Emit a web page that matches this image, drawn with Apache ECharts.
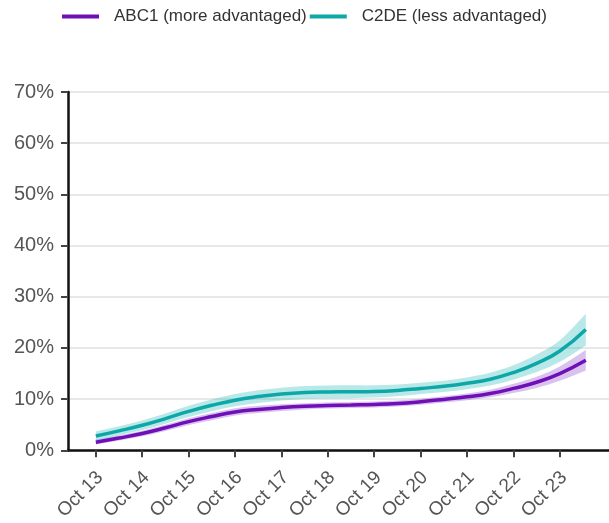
<!DOCTYPE html>
<html>
<head>
<meta charset="utf-8">
<script src="https://cdn.jsdelivr.net/npm/echarts@6/dist/echarts.min.js"></script>
<style>
html,body{margin:0;padding:0;background:#fff;}
#chart{width:609px;height:523px;}
</style>
</head>
<body>
<div id="chart"></div>
<script>
// x positions in years since Oct 2013
const years = [0,0.5,1,1.5,2,2.5,3,3.5,4,4.5,5,5.5,6,6.5,7,7.5,8,8.5,9,9.5,10,10.56];
const tickPositions = [0,1,2,3,4,5,6,7,8,9,10];
const tickLabels = ['Oct 13','Oct 14','Oct 15','Oct 16','Oct 17','Oct 18','Oct 19','Oct 20','Oct 21','Oct 22','Oct 23'];
const yTicks = [0,10,20,30,40,50,60,70];

const abc1Name = 'ABC1 (more advantaged)';
const c2deName = 'C2DE (less advantaged)';

const abc1 = [1.6,2.4,3.3,4.4,5.6,6.6,7.5,8.0,8.35,8.6,8.75,8.85,8.95,9.15,9.5,9.95,10.45,11.1,12.1,13.3,15.0,17.6];
const abc1Lower = [1.1,1.9,2.75,3.8,4.95,5.9,6.8,7.3,7.7,8.0,8.15,8.25,8.35,8.55,8.9,9.35,9.8,10.35,11.2,12.2,13.6,15.6];
const abc1Upper = [2.1,2.9,3.85,5.0,6.25,7.3,8.2,8.7,9.0,9.2,9.35,9.45,9.55,9.75,10.1,10.55,11.1,11.85,13.0,14.4,16.4,19.6];

const c2de = [2.8,3.8,4.9,6.2,7.6,8.8,9.8,10.5,11.0,11.3,11.4,11.45,11.5,11.7,12.1,12.5,13.1,13.9,15.2,17.0,19.4,23.6];
const c2deLower = [1.9,2.9,3.95,5.2,6.5,7.65,8.6,9.25,9.75,10.05,10.15,10.2,10.3,10.55,11.0,11.4,11.95,12.65,13.8,15.3,17.3,20.5];
const c2deUpper = [3.7,4.7,5.85,7.2,8.7,9.95,11.0,11.75,12.25,12.55,12.65,12.7,12.7,12.85,13.2,13.6,14.25,15.15,16.6,18.7,21.5,26.7];

const purple = '#6e0fb8';
const teal = '#0ea7a8';
const purpleBand = 'rgba(150, 80, 205, 0.35)';
const tealBand = 'rgba(40, 185, 185, 0.33)';

// Catmull-Rom -> cubic bezier path segment through pixel points
function splinePath(pts, moveFirst){
  let d = (moveFirst ? 'M' : 'L') + pts[0][0] + ' ' + pts[0][1];
  for (let i = 0; i < pts.length - 1; i++){
    const p0 = pts[i-1] || pts[i], p1 = pts[i], p2 = pts[i+1], p3 = pts[i+2] || pts[i+1];
    const c1x = p1[0] + (p2[0]-p0[0])/6, c1y = p1[1] + (p2[1]-p0[1])/6;
    const c2x = p2[0] - (p3[0]-p1[0])/6, c2y = p2[1] - (p3[1]-p1[1])/6;
    d += ' C' + c1x + ' ' + c1y + ' ' + c2x + ' ' + c2y + ' ' + p2[0] + ' ' + p2[1];
  }
  return d;
}

function bandSeries(lo, hi, color){
  const data = years.map((x,i)=>[x, lo[i], hi[i]]);
  return {
    type:'custom', silent:true, z:1,
    data:data,
    encode:{x:0, y:[1,2]},
    renderItem:function(params, api){
      if (params.dataIndex !== 0) return null;
      const upper = data.map(d=>api.coord([d[0], d[2]]));
      const lower = data.map(d=>api.coord([d[0], d[1]])).reverse();
      const path = splinePath(upper, true) + ' ' + splinePath(lower, false) + ' Z';
      return {type:'path', shape:{pathData:path}, style:{fill:color, stroke:null}};
    }
  };
}

const chart = echarts.init(document.getElementById('chart'), null, {renderer:'canvas'});
chart.setOption({
  animation:false,
  legend:{
    left:57, top:3,
    itemWidth:37, itemHeight:4, itemGap:3,
    textStyle:{fontFamily:'Liberation Sans, Arial, sans-serif', fontSize:17, color:'#333', padding:[0,0,0,10]},
    data:[{name:abc1Name, icon:'rect'},{name:c2deName, icon:'rect'}]
  },
  grid:{left:68, right:0, top:92, bottom:71, containLabel:false},
  xAxis:{
    type:'value', min:-0.6, max:11.06,
    axisLine:{show:true, onZero:false, lineStyle:{color:'#111', width:2.5}},
    axisTick:{show:true, customValues:tickPositions, length:7, lineStyle:{color:'#444', width:2}},
    axisLabel:{customValues:tickPositions, rotate:45, margin:20, verticalAlign:'top', lineHeight:12,
      formatter:function(v){ const i = tickPositions.indexOf(Math.round(v)); return i>=0 ? tickLabels[i] : ''; },
      fontFamily:'Liberation Sans, Arial, sans-serif', fontSize:19, color:'#555'},
    splitLine:{show:false}
  },
  yAxis:{
    type:'value', min:yTicks[0], max:yTicks[yTicks.length-1], interval:10,
    axisLine:{show:true, onZero:false, lineStyle:{color:'#111', width:2.5}},
    axisTick:{show:true, length:7, lineStyle:{color:'#444', width:2}},
    axisLabel:{formatter:'{value}%', margin:14, fontFamily:'Liberation Sans, Arial, sans-serif', fontSize:20, color:'#555'},
    splitLine:{show:true, lineStyle:{color:'#e8e8e8', width:2}}
  },
  series:[
    bandSeries(abc1Lower, abc1Upper, purpleBand),
    bandSeries(c2deLower, c2deUpper, tealBand),
    {name:abc1Name, type:'line', data:years.map((x,i)=>[x, abc1[i]]), smooth:true, symbol:'none',
     itemStyle:{color:purple}, lineStyle:{color:purple, width:3.5}, z:3},
    {name:c2deName, type:'line', data:years.map((x,i)=>[x, c2de[i]]), smooth:true, symbol:'none',
     itemStyle:{color:teal}, lineStyle:{color:teal, width:3.5}, z:3}
  ]
});
</script>
</body>
</html>
